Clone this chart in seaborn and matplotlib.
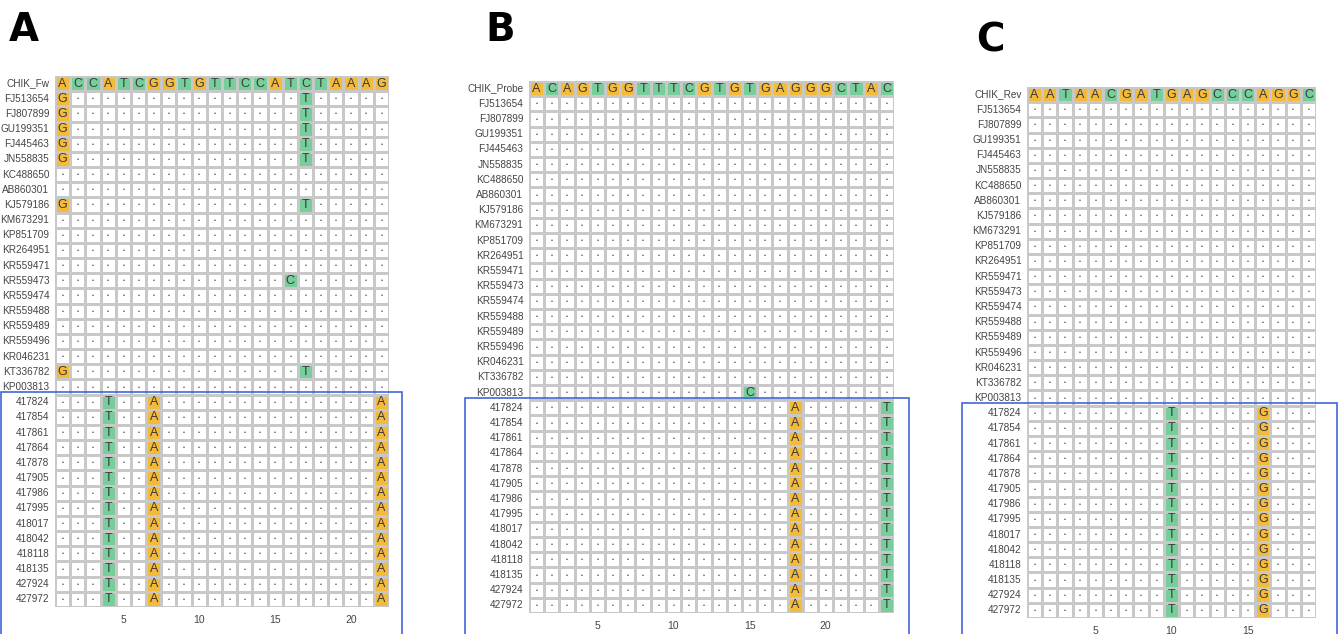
import matplotlib
matplotlib.use("Agg")
import matplotlib.pyplot as plt
from matplotlib.colors import ListedColormap
from matplotlib.patches import Rectangle
import numpy as np
import pandas as pd
import seaborn as sns

# reference strains (GenBank) and the clinical isolates
genbank = ["FJ513654", "FJ807899", "GU199351", "FJ445463", "JN558835",
           "KC488650", "AB860301", "KJ579186", "KM673291", "KP851709",
           "KR264951", "KR559471", "KR559473", "KR559474", "KR559488",
           "KR559489", "KR559496", "KR046231", "KT336782", "KP003813"]
isolates = ["417824", "417854", "417861", "417864", "417878", "417905",
            "417986", "417995", "418017", "418042", "418118", "418135",
            "427924", "427972"]

# forward primer
fw_name = "CHIK_Fw"
fw_primer = "ACCATCGGTGTTCCATCTAAAG"
fw_variants = {
    "FJ513654": "G...............T.....",
    "FJ807899": "G...............T.....",
    "GU199351": "G...............T.....",
    "FJ445463": "G...............T.....",
    "JN558835": "G...............T.....",
    "KJ579186": "G...............T.....",
    "KR559473": "...............C......",
    "KT336782": "G...............T.....",
}
fw_isolate = "...T..A..............A"

# probe
probe_name = "CHIK_Probe"
probe_primer = "ACAGTGGTTTCGTGTGAGGGCTAC"
probe_variants = {
    "KP003813": "..............C.........",
}
probe_isolate = ".................A.....T"

# reverse primer
rev_name = "CHIK_Rev"
rev_primer = "AATAACGATGAGCCCAGGC"
rev_variants = {}
rev_isolate = ".........T.....G..."

x_ticks = [5, 10, 15, 20]

ORANGE = "#F4BA3A"
GREEN = "#76CE9B"
W, H = 1344, 634


def build(name, primer, variants, isolate_row):
    n = len(primer)
    names = [name] + genbank + isolates
    rows = [primer] + [variants.get(g, "." * n) for g in genbank] + [isolate_row] * len(isolates)
    codes = [[0 if c == "." else (1 if c in "AG" else 2) for c in r] for r in rows]
    text = np.array([["\u2022" if c == "." else c for c in r] for r in rows])
    return pd.DataFrame(codes, index=names, columns=range(1, n + 1)), text


def px_axes(fig, x0, y0, x1, y1):
    return fig.add_axes([x0 / W, 1 - y1 / H, (x1 - x0) / W, (y1 - y0) / H])


sns.set_style("white")
plt.rcParams["font.family"] = ["Liberation Sans", "DejaVu Sans"]

fig = plt.figure(figsize=(13.44, 6.34), dpi=100)
cmap = ListedColormap(["white", ORANGE, GREEN])

panels = [
    ("A", fw_name, fw_primer, fw_variants, fw_isolate,
     (55, 76, 389, 607), (9, 11), (1, 392, 402, 640)),
    ("B", probe_name, probe_primer, probe_variants, probe_isolate,
     (529, 81, 894, 613), (485, 11), (465, 398, 909, 640)),
    ("C", rev_name, rev_primer, rev_variants, rev_isolate,
     (1027, 87, 1316, 618), (976, 21), (962, 403, 1337, 640)),
]

for label, name, primer, variants, iso, box, lab_pos, blue in panels:
    df, text = build(name, primer, variants, iso)
    ax = px_axes(fig, *box)
    sns.heatmap(df, ax=ax, cmap=cmap, vmin=0, vmax=2, cbar=False,
                annot=text, fmt="", annot_kws={"fontsize": 9, "color": "#3a3a3a"},
                linewidths=0.8, linecolor="#c8c8c8",
                xticklabels=False, yticklabels=True)
    # shrink the identity dots
    for t in ax.texts:
        if t.get_text() == "\u2022":
            t.set_fontsize(4)
    ax.set_xticks([t - 0.5 for t in x_ticks if t <= len(primer)])
    ax.set_xticklabels([str(t) for t in x_ticks if t <= len(primer)])
    ax.set_xlabel("")
    ax.set_ylabel("")
    ax.tick_params(axis="both", length=0, colors="#444444")
    ax.tick_params(axis="x", pad=6, labelsize=7.5)
    ax.tick_params(axis="y", pad=4, labelsize=7.2)
    plt.setp(ax.get_yticklabels(), rotation=0)

    fig.text(lab_pos[0] / W, 1 - lab_pos[1] / H, label, fontsize=28,
             fontweight="bold", va="top", ha="left", family="DejaVu Sans",
             color="black")

    bx0, by0, bx1, by1 = blue
    fig.add_artist(Rectangle((bx0 / W, 1 - by1 / H), (bx1 - bx0) / W, (by1 - by0) / H,
                             transform=fig.transFigure, fill=False,
                             edgecolor="#3f67d8", lw=1.2))

fig.savefig("out.png", dpi=100)
